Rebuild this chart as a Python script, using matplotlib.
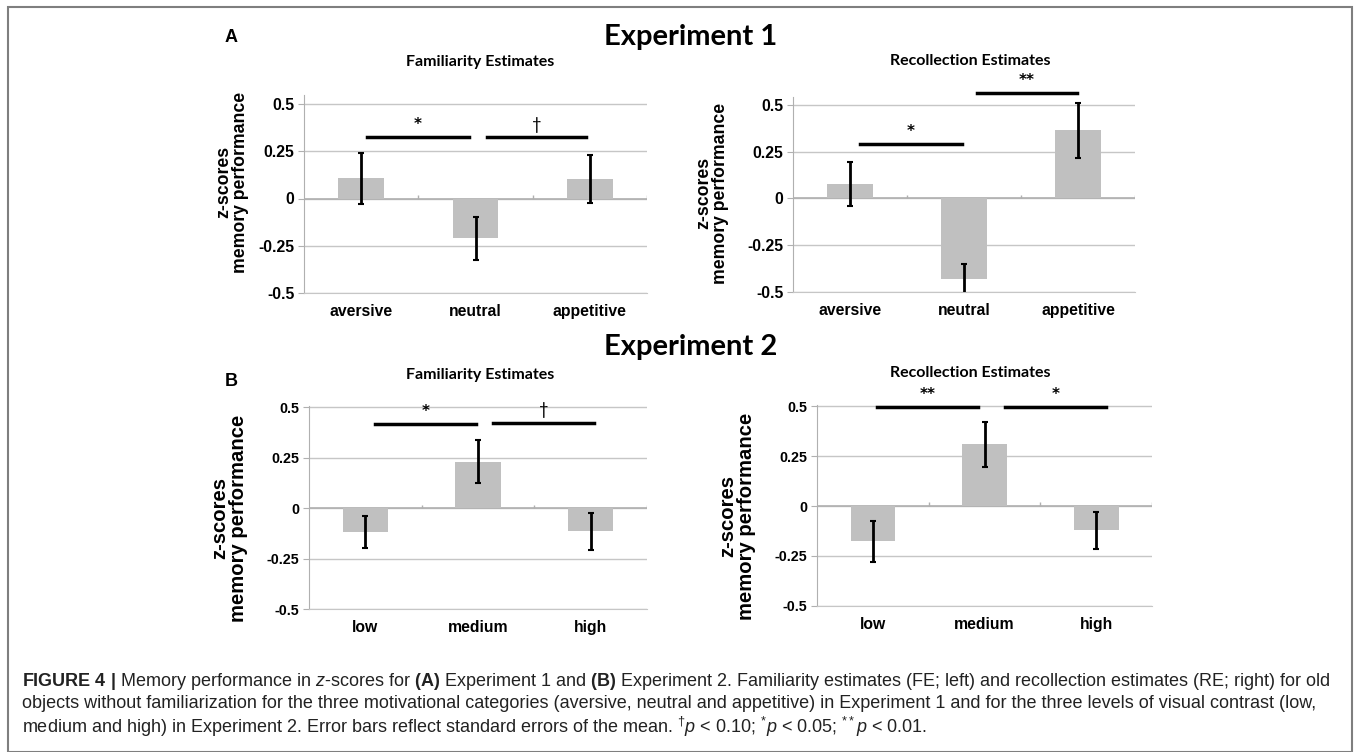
import numpy as np
import matplotlib.pyplot as plt
from matplotlib import font_manager
from matplotlib.patches import Rectangle

# --- Data ---
cats_exp1 = ["aversive", "neutral", "appetitive"]
cats_exp2 = ["low", "medium", "high"]

fe1_mean = [0.106, -0.210, 0.104]
fe1_se = [0.133, 0.113, 0.127]
re1_mean = [0.075, -0.432, 0.364]
re1_se = [0.118, 0.078, 0.146]

fe2_mean = [-0.119, 0.231, -0.114]
fe2_se = [0.080, 0.107, 0.091]
re2_mean = [-0.177, 0.309, -0.122]
re2_se = [0.103, 0.112, 0.093]

yticks = [-0.5, -0.25, 0, 0.25, 0.5]
ytick_labels = ["-0.5", "-0.25", "0", "0.25", "0.5"]

# significance brackets: (x_start, x_end, y, label)
fe1_sig = [(0.05, 0.94, 0.326, "*"), (1.10, 1.97, 0.323, "\u2020")]
re1_sig = [(0.09, 0.98, 0.291, "*"), (1.11, 1.99, 0.564, "**")]
fe2_sig = [(0.09, 0.98, 0.416, "*"), (1.13, 2.03, 0.420, "\u2020")]
re2_sig = [(0.04, 0.94, 0.497, "**"), (1.18, 2.09, 0.497, "*")]

W, H = 1354, 752
fig = plt.figure(figsize=(W / 100, H / 100), dpi=100)

names = {f.name for f in font_manager.fontManager.ttflist}
narrow = "Liberation Sans Narrow" in names
cap_font = "Liberation Sans Narrow" if narrow else "Liberation Sans"
cap_size = 14.2 if narrow else 13.0
head_font = "Lato"
tick_font = "Liberation Sans"


def px(x, y):
    return x / W, 1 - y / H


def add_panel(x0, x1, y_bot, y_top, ymax, cats, means, ses, sigs, tsize):
    # y_bot: pixel of -0.5, y_top: pixel of +0.5
    per = (y_bot - y_top) / 1.0
    top_px = y_bot - per * (ymax + 0.5)
    ax = fig.add_axes([x0 / W, 1 - y_bot / H, (x1 - x0) / W, (y_bot - top_px) / H])
    xs = np.arange(len(cats))
    ax.set_xlim(-0.5, 2.5)
    ax.set_ylim(-0.5, ymax)
    for y in yticks:
        ax.axhline(y, color="#c6c6c6", lw=1, zorder=0)
    ax.axhline(0, color="#b0b0b0", lw=1.2, zorder=1)
    ax.vlines([0.5, 1.5, 2.5], 0, 0.018, color="#b0b0b0", lw=1)
    ax.bar(xs, means, width=0.4, color="#c0c0c0", zorder=2)
    ax.errorbar(xs, means, yerr=ses, fmt="none", ecolor="black", elinewidth=2,
                capsize=2.5, capthick=1.5, zorder=3)
    for xa, xb, y, lab in sigs:
        ax.plot([xa, xb], [y, y], color="black", lw=2.5, clip_on=False, zorder=4)
        if "*" in lab:
            ax.text((xa + xb) / 2, y + 0.025, lab, ha="center", va="bottom",
                    fontsize=11, fontweight="bold", family="DejaVu Sans", clip_on=False)
        else:
            ax.text((xa + xb) / 2, y + 0.025, lab, ha="center", va="bottom",
                    fontsize=12, family=head_font, clip_on=False)
    for side in ["top", "right"]:
        ax.spines[side].set_visible(False)
    ax.spines["left"].set_color("#b0b0b0")
    ax.spines["bottom"].set_color("#c6c6c6")
    ax.set_yticks(yticks)
    ax.set_yticklabels(ytick_labels, fontsize=tsize, fontweight="bold", family=tick_font)
    ax.tick_params(axis="y", length=4, color="#b0b0b0", pad=3)
    ax.set_xticks(xs)
    ax.set_xticklabels(cats, fontsize=11.3, fontweight="bold", family=tick_font)
    ax.tick_params(axis="x", length=0, pad=8)
    return ax


add_panel(304, 647, 293, 104, 0.548, cats_exp1, fe1_mean, fe1_se, fe1_sig, 11.3)
add_panel(793, 1135, 291.7, 105, 0.545, cats_exp1, re1_mean, re1_se, re1_sig, 11.3)
add_panel(309, 647, 609.3, 407.3, 0.505, cats_exp2, fe2_mean, fe2_se, fe2_sig, 10.3)
add_panel(817, 1152, 605.7, 406.3, 0.505, cats_exp2, re2_mean, re2_se, re2_sig, 10.3)

# panel titles
for (x, y, s) in [(480, 62, "Familiarity Estimates"), (970, 61, "Recollection Estimates"),
                  (480, 375, "Familiarity Estimates"), (970, 373, "Recollection Estimates")]:
    fig.text(*px(x, y), s, ha="center", va="center", fontsize=11.5,
             fontweight="bold", family=head_font)

# y labels
for (x, y, fs) in [(232, 182, 12.7), (712, 193, 12.7), (229, 518, 14.6), (737, 516, 14.6)]:
    fig.text(*px(x, y), "z-scores\nmemory performance", rotation=90, ha="center",
             va="center", fontsize=fs, fontweight="bold", family=tick_font,
             linespacing=1.0, multialignment="center")

fig.text(*px(691, 37), "Experiment 1", ha="center", va="center", fontsize=21,
         fontweight="bold", family=head_font)
fig.text(*px(691, 347), "Experiment 2", ha="center", va="center", fontsize=21,
         fontweight="bold", family=head_font)
fig.text(*px(231, 37), "A", ha="center", va="center", fontsize=13,
         fontweight="bold", family=tick_font)
fig.text(*px(231, 382), "B", ha="center", va="center", fontsize=13,
         fontweight="bold", family=tick_font)

# outer frame
fig.patches.append(Rectangle((8 / W, 0.0), (1352 - 8) / W, 1 - 7 / H,
                             transform=fig.transFigure, fill=False,
                             edgecolor="#7f7f7f", lw=1.5))

# caption
plt.rcParams["mathtext.fontset"] = "custom"
plt.rcParams["mathtext.rm"] = cap_font
plt.rcParams["mathtext.it"] = cap_font + ":italic"
plt.rcParams["mathtext.bf"] = cap_font + ":bold"
cap_lines = [
    r"$\mathbf{FIGURE\ 4\ |}$ Memory performance in $z$-scores for $\mathbf{(A)}$ Experiment 1 and "
    r"$\mathbf{(B)}$ Experiment 2. Familiarity estimates (FE; left) and recollection estimates (RE; right) for old",
    "objects without familiarization for the three motivational categories (aversive, neutral and "
    "appetitive) in Experiment 1 and for the three levels of visual contrast (low,",
    r"medium and high) in Experiment 2. Error bars reflect standard errors of the mean. "
    r"$^{\dagger}p$ < 0.10; $^{*}p$ < 0.05; $^{**}p$ < 0.01.",
]
for i, line in enumerate(cap_lines):
    fig.text(*px(22, 681 + i * 23), line, ha="left", va="center", fontsize=cap_size,
             family=cap_font, color="#222222")

fig.savefig("out.png", dpi=100)
